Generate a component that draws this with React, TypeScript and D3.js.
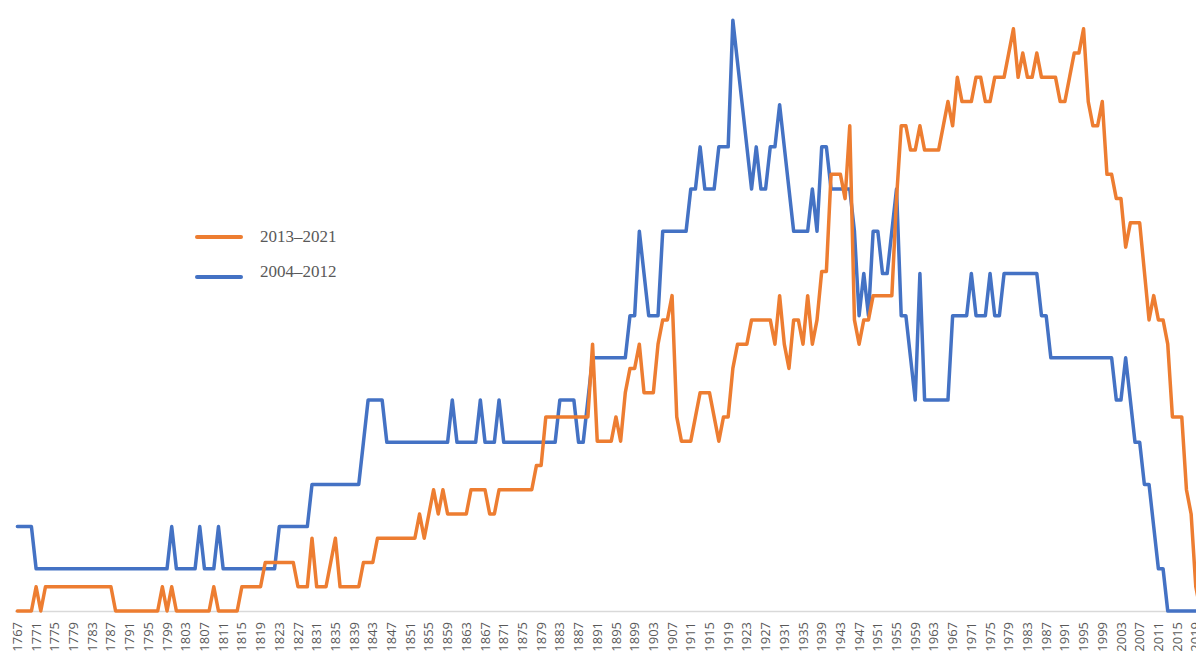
import React, { useRef, useEffect } from 'react';
import * as d3 from 'd3';

// categories: one point per year
const firstYear = 1767;
const years = d3.range(firstYear, 2022);
const tickYears = d3.range(1767, 2020, 4);

// works per year, group 2004–2012 (1767..2021, one row per decade)
const counts2004 = [
  2, 2, 2,
  2, 1, 1, 1, 1, 1, 1, 1, 1, 1,
  1, 1, 1, 1, 1, 1, 1, 1, 1, 1,
  1, 1, 1, 1, 1, 1, 1, 1, 1, 1,
  2, 1, 1, 1, 1, 1, 2, 1, 1, 1,
  2, 1, 1, 1, 1, 1, 1, 1, 1, 1,
  1, 1, 1, 2, 2, 2, 2, 2, 2, 2,
  3, 3, 3, 3, 3, 3, 3, 3, 3, 3,
  3, 4, 5, 5, 5, 5, 4, 4, 4, 4,
  4, 4, 4, 4, 4, 4, 4, 4, 4, 4,
  5, 4, 4, 4, 4, 4, 5, 4, 4, 4,
  5, 4, 4, 4, 4, 4, 4, 4, 4, 4,
  4, 4, 4, 5, 5, 5, 5, 4, 4, 5,
  6, 6, 6, 6, 6, 6, 6, 6, 7, 7,
  9, 8, 7, 7, 7, 9, 9, 9, 9, 9,
  9, 10, 10, 11, 10, 10, 10, 11, 11, 11,
  14, 13, 12, 11, 10, 11, 10, 10, 11, 11,
  12, 11, 10, 9, 9, 9, 9, 10, 9, 11,
  11, 10, 10, 10, 10, 10, 9, 7, 8, 7,
  9, 9, 8, 8, 9, 10, 7, 7, 6, 5,
  8, 5, 5, 5, 5, 5, 5, 7, 7, 7,
  7, 8, 7, 7, 7, 8, 7, 7, 8, 8,
  8, 8, 8, 8, 8, 8, 7, 7, 6, 6,
  6, 6, 6, 6, 6, 6, 6, 6, 6, 6,
  6, 6, 5, 5, 6, 5, 4, 4, 3, 3,
  2, 1, 1, 0, 0, 0, 0, 0, 0, 0,
  0, 0,
];

// works per year, group 2013–2021
const counts2013 = [
  0, 0, 0,
  0, 1, 0, 1, 1, 1, 1, 1, 1, 1,
  1, 1, 1, 1, 1, 1, 1, 1, 0, 0,
  0, 0, 0, 0, 0, 0, 0, 0, 1, 0,
  1, 0, 0, 0, 0, 0, 0, 0, 0, 1,
  0, 0, 0, 0, 0, 1, 1, 1, 1, 1,
  2, 2, 2, 2, 2, 2, 2, 1, 1, 1,
  3, 1, 1, 1, 2, 3, 1, 1, 1, 1,
  1, 2, 2, 2, 3, 3, 3, 3, 3, 3,
  3, 3, 3, 4, 3, 4, 5, 4, 5, 4,
  4, 4, 4, 4, 5, 5, 5, 5, 4, 4,
  5, 5, 5, 5, 5, 5, 5, 5, 6, 6,
  8, 8, 8, 8, 8, 8, 8, 8, 8, 8,
  11, 7, 7, 7, 7, 8, 7, 9, 10, 10,
  11, 9, 9, 9, 11, 12, 12, 13, 8, 7,
  7, 7, 8, 9, 9, 9, 8, 7, 8, 8,
  10, 11, 11, 11, 12, 12, 12, 12, 12, 11,
  13, 11, 10, 12, 12, 11, 13, 11, 12, 14,
  14, 18, 18, 18, 17, 20, 12, 11, 12, 12,
  13, 13, 13, 13, 13, 17, 20, 20, 19, 19,
  20, 19, 19, 19, 19, 20, 21, 20, 22, 21,
  21, 21, 22, 22, 21, 21, 22, 22, 22, 23,
  24, 22, 23, 22, 22, 23, 22, 22, 22, 22,
  21, 21, 22, 23, 23, 24, 21, 20, 20, 21,
  18, 18, 17, 17, 15, 16, 16, 16, 14, 12,
  13, 12, 12, 11, 8, 8, 8, 5, 4, 1,
  0, 0,
];

const seriesNames = ['2013–2021', '2004–2012'];
const seriesColors = ['#ED7D31', '#4472C4'];
const seriesCounts = [counts2013, counts2004];

const width = 1196;
const height = 653;

const App: React.FC = () => {
  const svgRef = useRef<SVGSVGElement | null>(null);

  useEffect(() => {
    const svg = d3.select(svgRef.current);
    svg.selectAll('*').remove();

    const x = d3.scaleLinear().domain([1767, 2019]).range([17.4, 1195.8]);
    // share of each group's total, in percent
    const y = d3.scaleLinear().domain([0, 1.2]).range([611, -30]);

    // x axis line
    svg.append('line')
      .attr('x1', 15).attr('x2', width)
      .attr('y1', y(0) + 0.5).attr('y2', y(0) + 0.5)
      .attr('stroke', '#d9d9d9')
      .attr('stroke-width', 1.5);

    // rotated year labels
    svg.append('g')
      .selectAll('text')
      .data(tickYears)
      .enter()
      .append('text')
      .attr('transform', d => `translate(${x(d)},622) rotate(-90)`)
      .attr('text-anchor', 'end')
      .attr('dy', '0.35em')
      .attr('font-family', "'Open Sans', sans-serif")
      .attr('font-size', '13px')
      .attr('fill', '#595959')
      .text(d => String(d));

    const line = d3.line<[number, number]>()
      .x(d => x(d[0]))
      .y(d => y(d[1]));

    // blue first, orange on top where they cross
    [1, 0].forEach(i => {
      const counts = seriesCounts[i];
      const total = d3.sum(counts);
      const pts: [number, number][] = years.map((yr, j) => [yr, (counts[j] / total) * 100]);
      svg.append('path')
        .attr('d', line(pts) || '')
        .attr('fill', 'none')
        .attr('stroke', seriesColors[i])
        .attr('stroke-width', 3.5)
        .attr('stroke-linejoin', 'round')
        .attr('stroke-linecap', 'round');
    });

    // legend
    const legend = svg.append('g');
    const legendY = [237, 277];
    const textY = [242, 277];
    seriesNames.forEach((name, i) => {
      legend.append('line')
        .attr('x1', 197).attr('x2', 241)
        .attr('y1', legendY[i]).attr('y2', legendY[i])
        .attr('stroke', seriesColors[i])
        .attr('stroke-width', 4)
        .attr('stroke-linecap', 'round');
      legend.append('text')
        .attr('x', 260)
        .attr('y', textY[i])
        .attr('font-family', "'Liberation Serif', serif")
        .attr('font-size', '17px')
        .attr('fill', '#595959')
        .text(name);
    });
  }, []);

  return (
    <svg
      ref={svgRef}
      width={width}
      height={height}
      style={{ position: 'absolute', left: 0, top: 0, display: 'block', background: '#fff' }}
    />
  );
};

export default App;
